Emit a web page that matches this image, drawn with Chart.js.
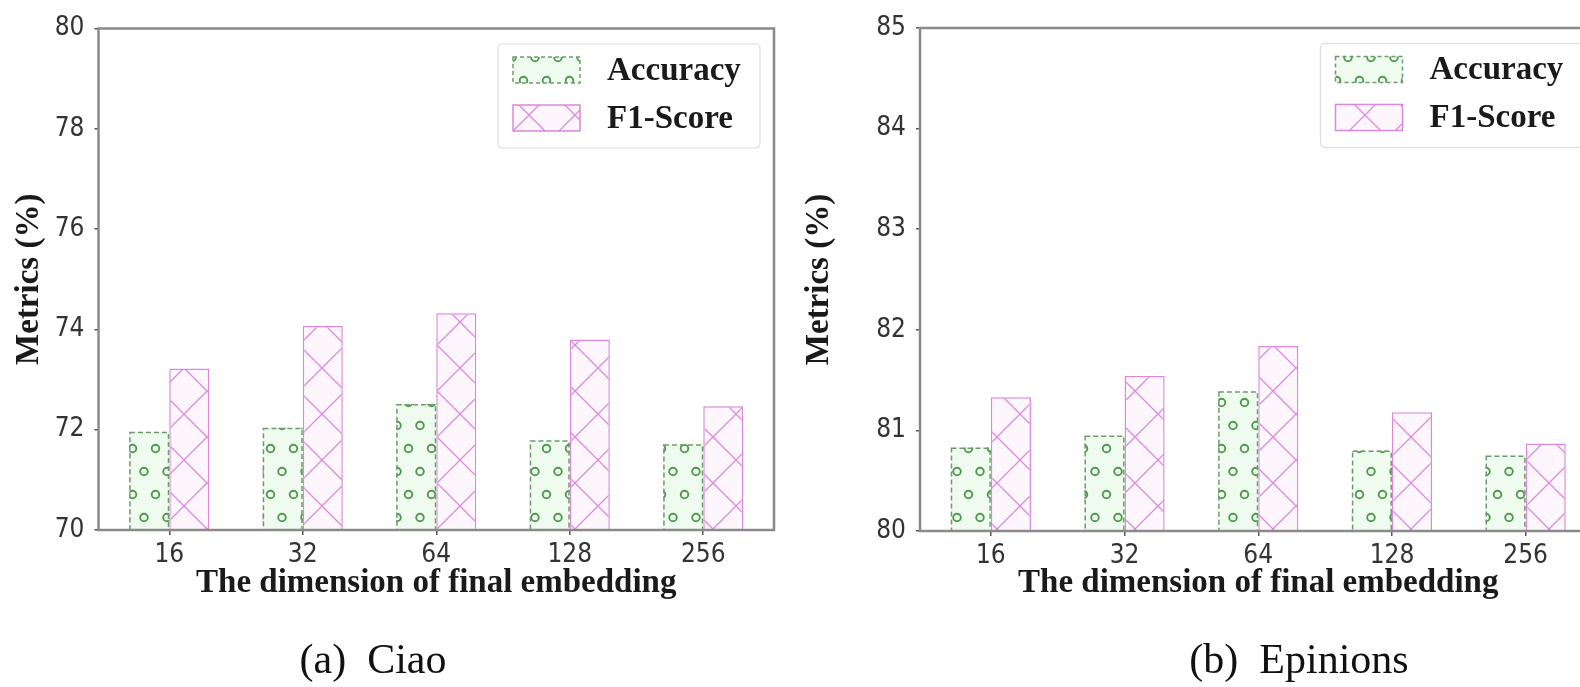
<!DOCTYPE html>
<html><head><meta charset="utf-8">
<script src="https://cdn.jsdelivr.net/npm/chart.js@4.4.1/dist/chart.umd.min.js"></script>
<style>
html,body{margin:0;padding:0;background:#fff;}
body{width:1580px;height:687px;overflow:hidden;position:relative;}
canvas{position:absolute;top:0;}
#c1{left:0;} #c2{left:790px;}
.cap{position:absolute;font-family:"Liberation Serif","Times New Roman",serif;font-size:42px;color:#111;white-space:pre;transform:translateX(-50%);top:638px;line-height:1;}
</style></head><body>
<canvas id="c1" width="790" height="687"></canvas>
<canvas id="c2" width="830" height="687"></canvas>
<div class="cap" style="left:373px">(a)  Ciao</div>
<div class="cap" style="left:1299px">(b)  Epinions</div>
<script>
const categories = ['16', '32', '64', '128', '256'];
const seriesNames = ['Accuracy', 'F1-Score'];
const ciaoAccuracy = [71.96, 72.04, 72.51, 71.79, 71.71];
const ciaoF1 = [73.22, 74.07, 74.32, 73.80, 72.47];
const epinionsAccuracy = [80.83, 80.95, 81.39, 80.80, 80.75];
const epinionsF1 = [81.33, 81.54, 81.84, 81.18, 80.87];
const ciaoTicks = [70, 72, 74, 76, 78, 80];
const epinionsTicks = [80, 81, 82, 83, 84, 85];
const xTitle = 'The dimension of final embedding';
const yTitle = 'Metrics (%)';

const TICK_FONT = '"DejaVu Sans Condensed", "DejaVu Sans", sans-serif';
const SERIF = '"Liberation Serif", "Times New Roman", serif';

function dotPattern(){
  const c=document.createElement('canvas'); c.width=23; c.height=46;
  const g=c.getContext('2d');
  g.fillStyle='#f0fbf0'; g.fillRect(0,0,23,46);
  g.strokeStyle='#4f994f'; g.lineWidth=1.9;
  [[6,11.5],[17.5,34.5]].forEach(([x,y])=>{g.beginPath();g.arc(x,y,3.8,0,Math.PI*2);g.stroke();});
  return g.createPattern(c,'repeat');
}
function crossPattern(){
  const s=46;
  const c=document.createElement('canvas'); c.width=s; c.height=s;
  const g=c.getContext('2d');
  g.fillStyle='#fdf7fd'; g.fillRect(0,0,s,s);
  g.strokeStyle='#df88df'; g.lineWidth=1.3;
  g.beginPath(); g.moveTo(-2,-2); g.lineTo(s+2,s+2); g.moveTo(s+2,-2); g.lineTo(-2,s+2); g.stroke();
  return g.createPattern(c,'repeat');
}
const dotPat = dotPattern();
const crossPat = crossPattern();
const accBorder = '#6f9a6f';
const f1Border = '#d98ad9';

const framePlugin = {
  id:'frame',
  afterDatasetsDraw(chart){
    const {ctx, chartArea:a} = chart;
    ctx.save();
    ctx.beginPath(); ctx.rect(a.left, a.top, a.right-a.left, a.bottom-a.top); ctx.clip();
    // dashed edges for the Accuracy bars, from the library's bar elements
    const meta = chart.getDatasetMeta(0);
    ctx.strokeStyle=accBorder; ctx.lineWidth=1.5; ctx.setLineDash([5,3]);
    meta.data.forEach(b=>{
      const p=b.getProps(['x','y','width'], true);
      const bottom=a.bottom;
      ctx.strokeRect(p.x-p.width/2+0.75, p.y+0.75, p.width-1.5, bottom-p.y);
    });
    ctx.setLineDash([]);
    ctx.restore();
    ctx.save();
    ctx.strokeStyle='#8a8a8a'; ctx.lineWidth=2.5;
    ctx.strokeRect(a.left, a.top, a.right-a.left, a.bottom-a.top);
    ctx.restore();
  }
};
const legendPlugin = {
  id:'customLegend',
  afterDraw(chart){
    const {ctx, chartArea:a} = chart;
    const R=a.right, T=a.top;
    ctx.save();
    const fx=R-276, fy=T+15.5, fw=262, fh=104, r=5;
    ctx.beginPath();
    ctx.moveTo(fx+r,fy); ctx.lineTo(fx+fw-r,fy); ctx.quadraticCurveTo(fx+fw,fy,fx+fw,fy+r);
    ctx.lineTo(fx+fw,fy+fh-r); ctx.quadraticCurveTo(fx+fw,fy+fh,fx+fw-r,fy+fh);
    ctx.lineTo(fx+r,fy+fh); ctx.quadraticCurveTo(fx,fy+fh,fx,fy+fh-r);
    ctx.lineTo(fx,fy+r); ctx.quadraticCurveTo(fx,fy,fx+r,fy); ctx.closePath();
    ctx.fillStyle='rgba(255,255,255,0.85)'; ctx.fill();
    ctx.strokeStyle='#dedede'; ctx.lineWidth=1.2; ctx.stroke();
    const items=[
      {label:seriesNames[0], fill:dotPat, border:accBorder, y:T+28.5, dash:[4,3]},
      {label:seriesNames[1], fill:crossPat, border:f1Border, y:T+76.5, dash:[]}
    ];
    items.forEach(it=>{
      ctx.fillStyle=it.fill; ctx.fillRect(R-261, it.y, 67, 26);
      ctx.setLineDash(it.dash); ctx.strokeStyle=it.border; ctx.lineWidth=1.5;
      ctx.strokeRect(R-261, it.y, 67, 26); ctx.setLineDash([]);
      ctx.fillStyle='#1a1a1a'; ctx.font='bold 33px '+SERIF;
      ctx.textAlign='left'; ctx.textBaseline='middle';
      ctx.fillText(it.label, R-167, it.y+14);
    });
    ctx.restore();
  }
};

function makeChart(id, acc, f1, yTicks, yWidth, pad, xHeight){
  const toPts = arr => arr.map((v,i)=>({x:i, y:v}));
  return new Chart(document.getElementById(id), {
    type:'bar',
    data:{datasets:[
      {label:seriesNames[0], data:toPts(acc), backgroundColor:dotPat, borderColor:'rgba(0,0,0,0)', borderWidth:0, borderSkipped:false, categoryPercentage:0.6, barPercentage:1},
      {label:seriesNames[1], data:toPts(f1), backgroundColor:crossPat, borderColor:f1Border, borderWidth:1.5, borderSkipped:false, categoryPercentage:0.6, barPercentage:1}
    ]},
    options:{
      responsive:false, animation:false, devicePixelRatio:1,
      layout:{padding:pad},
      plugins:{legend:{display:false}, tooltip:{enabled:false}},
      scales:{
        x:{type:'linear', min:-0.53, max:4.53, offset:false,
          grid:{display:true, offset:false, drawOnChartArea:false, drawTicks:true, tickLength:5, color:'#555', lineWidth:1.5},
          border:{display:false},
          ticks:{includeBounds:false, autoSkip:false, maxRotation:0, padding:5, color:'#333',
            font:{family:TICK_FONT, size:26}, callback:(v)=>categories[v] ?? ''},
          afterBuildTicks:(s)=>{ s.ticks = categories.map((c,i)=>({value:i})); },
          afterFit:(s)=>{ s.height = xHeight; },
          title:{display:true, text:xTitle, color:'#1a1a1a', padding:0,
            font:{family:SERIF, size:33, weight:'bold'}}
        },
        y:{min:yTicks[0], max:yTicks[yTicks.length-1],
          grid:{display:true, drawOnChartArea:false, drawTicks:true, tickLength:4, color:'#555', lineWidth:1.5},
          border:{display:false},
          ticks:{padding:10, color:'#333', font:{family:TICK_FONT, size:26}},
          afterBuildTicks:(s)=>{ s.ticks = yTicks.map(v=>({value:v})); },
          afterFit:(s)=>{ s.width = yWidth; },
          title:{display:true, text:yTitle, color:'#1a1a1a', padding:{top:10, bottom:0},
            font:{family:SERIF, size:33, weight:'bold'}}
        }
      }
    },
    plugins:[framePlugin, legendPlugin]
  });
}

makeChart('c1', ciaoAccuracy, ciaoF1, ciaoTicks, 98.5, {left:0, right:16, top:28.5, bottom:84}, 73);
makeChart('c2', epinionsAccuracy, epinionsF1, epinionsTicks, 130, {left:0, right:23.5, top:28, bottom:84}, 72);
</script>
</body></html>
